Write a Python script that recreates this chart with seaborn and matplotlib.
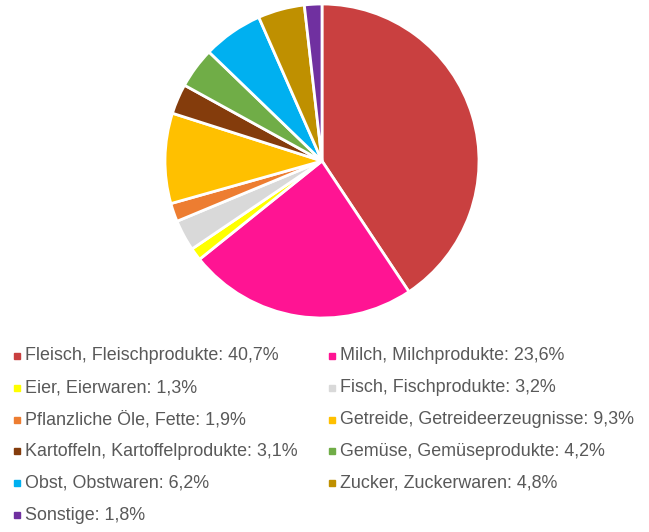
import matplotlib
matplotlib.use("Agg")
import matplotlib.pyplot as plt
import seaborn as sns

# data
categories = [
    "Fleisch, Fleischprodukte", "Milch, Milchprodukte", "Eier, Eierwaren",
    "Fisch, Fischprodukte", "Pflanzliche Öle, Fette", "Getreide, Getreideerzeugnisse",
    "Kartoffeln, Kartoffelprodukte", "Gemüse, Gemüseprodukte", "Obst, Obstwaren",
    "Zucker, Zuckerwaren", "Sonstige",
]
shares = [40.7, 23.6, 1.3, 3.2, 1.9, 9.3, 3.1, 4.2, 6.2, 4.8, 1.8]
colors = ["#C94040", "#FF1493", "#FFFF00", "#D9D9D9", "#ED7D31", "#FFC000",
          "#843C0C", "#70AD47", "#00B0F0", "#BF9000", "#7030A0"]

sns.set_theme(style="white")
plt.rcParams["font.family"] = ["Liberation Sans", "DejaVu Sans"]

W, H = 649, 532
fig = plt.figure(figsize=(W / 100, H / 100), dpi=100)
cx, cy, r = 322, 161, 157
ax = fig.add_axes([(cx - r) / W, (H - cy - r) / H, 2 * r / W, 2 * r / H])
ax.pie(shares, colors=colors, startangle=90, counterclock=False,
       wedgeprops=dict(edgecolor="white", linewidth=2))
ax.set_xlim(-1.0, 1.0)
ax.set_ylim(-1.0, 1.0)
ax.set_aspect("equal")
ax.axis("off")

# legend, two columns, row-wise order
col_x = [17, 332]
row_y0, row_dy = 356, 31.8
for i, (cat, val, col) in enumerate(zip(categories, shares, colors)):
    row, c = divmod(i, 2)
    x = col_x[c]
    y = row_y0 + row * row_dy
    fig.patches.append(plt.Rectangle(((x - 3) / W, (H - y - 3) / H), 6 / W, 6 / H,
                                     transform=fig.transFigure, color=col, figure=fig))
    label = f"{cat}: {val:.1f}%".replace(".", ",")
    fig.text((x + 8) / W, (H - y) / H, label, ha="left", va="center",
             fontsize=12.85, color="#595959")

fig.savefig("out.png", dpi=100)
